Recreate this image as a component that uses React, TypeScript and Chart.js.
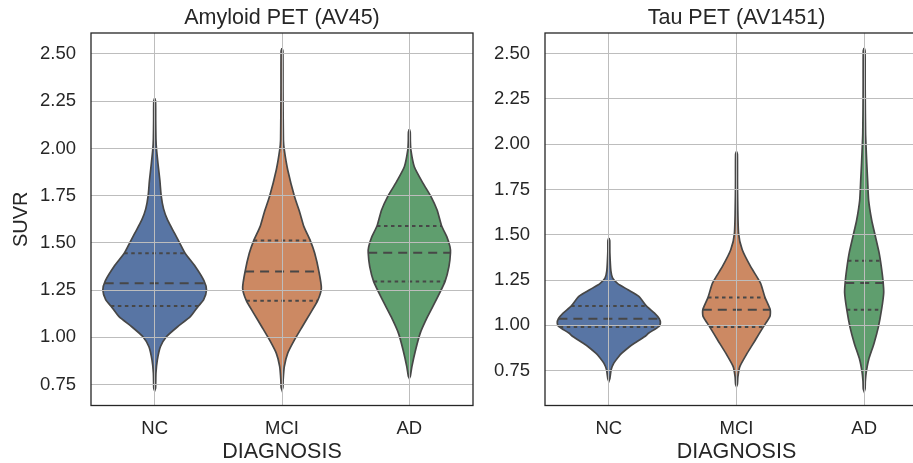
import React, { useEffect, useRef } from 'react';
import { Chart, registerables } from 'chart.js';

Chart.register(...registerables);

// ---------- data ----------
const CATEGORIES = ['NC', 'MCI', 'AD'];
const Y_TICKS = [0.75, 1.0, 1.25, 1.5, 1.75, 2.0, 2.25, 2.5];
const COLORS = ['#5875a4', '#cc8963', '#5f9e6e'];

const AMY_TITLE = 'Amyloid PET (AV45)';
const TAU_TITLE = 'Tau PET (AV1451)';
const X_TITLE = 'DIAGNOSIS';
const Y_TITLE = 'SUVR';

// Amyloid violin profiles: SUVR levels and half-widths (category units)
const AMY_NC_SUVR = [2.265, 2.25, 2.15, 2.05, 2.0, 1.92, 1.83, 1.75, 1.68, 1.62, 1.55, 1.5, 1.445, 1.375, 1.3, 1.25, 1.198, 1.166, 1.109, 1.056, 1.003, 0.95, 0.88, 0.81, 0.73, 0.718];
const AMY_NC_WIDTH = [0, 0.007, 0.008, 0.01, 0.014, 0.026, 0.041, 0.051, 0.07, 0.102, 0.157, 0.196, 0.239, 0.319, 0.387, 0.407, 0.384, 0.344, 0.28, 0.18, 0.092, 0.045, 0.021, 0.01, 0.007, 0];

const AMY_MCI_SUVR = [2.53, 2.515, 2.3, 2.045, 1.992, 1.886, 1.745, 1.66, 1.586, 1.512, 1.445, 1.348, 1.26, 1.194, 1.127, 1.056, 0.986, 0.916, 0.845, 0.774, 0.735, 0.721];
const AMY_MCI_WIDTH = [0, 0.007, 0.008, 0.011, 0.018, 0.045, 0.098, 0.14, 0.172, 0.222, 0.257, 0.29, 0.309, 0.28, 0.222, 0.159, 0.098, 0.045, 0.018, 0.009, 0.007, 0];

const AMY_AD_SUVR = [2.101, 2.085, 2.04, 1.992, 1.903, 1.816, 1.745, 1.674, 1.589, 1.533, 1.48, 1.448, 1.374, 1.295, 1.198, 1.109, 1.021, 0.933, 0.845, 0.795, 0.783];
const AMY_AD_WIDTH = [0, 0.007, 0.008, 0.012, 0.039, 0.107, 0.17, 0.218, 0.254, 0.294, 0.319, 0.323, 0.311, 0.28, 0.211, 0.143, 0.085, 0.049, 0.02, 0.008, 0];

// Tau violin profiles
const TAU_NC_SUVR = [1.482, 1.468, 1.4, 1.3, 1.26, 1.23, 1.196, 1.159, 1.104, 1.067, 1.036, 1.012, 0.993, 0.957, 0.938, 0.902, 0.883, 0.846, 0.828, 0.791, 0.754, 0.705, 0.69];
const TAU_NC_WIDTH = [0, 0.007, 0.008, 0.016, 0.03, 0.07, 0.15, 0.235, 0.297, 0.358, 0.395, 0.404, 0.391, 0.313, 0.282, 0.203, 0.164, 0.102, 0.078, 0.039, 0.018, 0.008, 0];

const TAU_MCI_SUVR = [1.96, 1.945, 1.75, 1.509, 1.417, 1.325, 1.233, 1.154, 1.086, 1.049, 0.99, 0.92, 0.846, 0.772, 0.717, 0.675, 0.662];
const TAU_MCI_WIDTH = [0, 0.007, 0.008, 0.016, 0.045, 0.11, 0.188, 0.223, 0.264, 0.262, 0.209, 0.149, 0.084, 0.026, 0.011, 0.007, 0];

const TAU_AD_SUVR = [2.531, 2.515, 2.3, 2.06, 1.9, 1.8, 1.69, 1.58, 1.49, 1.4, 1.33, 1.25, 1.18, 1.09, 0.99, 0.9, 0.81, 0.74, 0.69, 0.648, 0.634];
const TAU_AD_WIDTH = [0, 0.007, 0.008, 0.011, 0.02, 0.027, 0.035, 0.059, 0.088, 0.117, 0.133, 0.147, 0.153, 0.137, 0.111, 0.077, 0.035, 0.016, 0.009, 0.007, 0];

// Quartiles [Q1, median, Q3]
const AMY_QUARTILES = [[1.166, 1.286, 1.445], [1.194, 1.348, 1.512], [1.295, 1.448, 1.589]];
const TAU_QUARTILES = [[0.99, 1.036, 1.106], [0.99, 1.086, 1.154], [1.086, 1.233, 1.357]];

const AMY_Y_RANGE = [0.639, 2.611];
const TAU_Y_RANGE = [0.557, 2.614];

// ---------- styles ----------
const FONT = '"Liberation Sans", Arial, sans-serif';
const TEXT = '#262626';
const GRID = '#bdbdbd';
const OUTLINE = '#474747';
const FRAME = '#262626';

function widthAt(ys: number[], ws: number[], v: number) {
  for (let i = 0; i < ys.length - 1; i++) {
    const a = ys[i], b = ys[i + 1];
    if ((v <= a && v >= b) || (v >= a && v <= b)) {
      const t = b === a ? 0 : (v - a) / (b - a);
      return ws[i] + t * (ws[i + 1] - ws[i]);
    }
  }
  return 0;
}

function buildDatasets(profiles: [number[], number[]][], quartiles: number[][]) {
  const sets: any[] = [];
  profiles.forEach(([ys, ws], c) => {
    const pts: { x: number; y: number }[] = [];
    for (let i = 0; i < ys.length; i++) pts.push({ x: c + ws[i], y: ys[i] });
    for (let i = ys.length - 1; i >= 0; i--) pts.push({ x: c - ws[i], y: ys[i] });
    sets.push({
      type: 'line',
      data: pts,
      fill: 'shape',
      backgroundColor: COLORS[c],
      borderColor: OUTLINE,
      borderWidth: 1.7,
      pointRadius: 0,
      tension: 0.2,
      order: 2,
    });
    quartiles[c].forEach((q, k) => {
      const w = widthAt(ys, ws, q);
      sets.push({
        type: 'line',
        data: [{ x: c - w, y: q }, { x: c + w, y: q }],
        fill: false,
        borderColor: OUTLINE,
        borderWidth: 2,
        borderDash: k === 1 ? [9, 6] : [3.5, 3.5],
        pointRadius: 0,
        tension: 0,
        order: 1,
      });
    });
  });
  return sets;
}

const framePlugin = {
  id: 'frame',
  afterDraw(chart: any) {
    const { ctx, chartArea: a } = chart;
    ctx.save();
    ctx.strokeStyle = FRAME;
    ctx.lineWidth = 1.3;
    ctx.strokeRect(a.left, a.top, a.right - a.left, a.bottom - a.top);
    ctx.restore();
  },
};

function makeConfig(opts: {
  title: string;
  datasets: any[];
  yRange: number[];
  yAxisWidth: number;
  padRight: number;
  showYTitle: boolean;
}) {
  return {
    type: 'line',
    data: { datasets: opts.datasets },
    plugins: [framePlugin],
    options: {
      animation: false,
      responsive: false,
      maintainAspectRatio: false,
      events: [],
      layout: { padding: { left: 0, right: opts.padRight, top: 0, bottom: 0 } },
      plugins: {
        legend: { display: false },
        tooltip: { enabled: false },
        title: {
          display: true,
          text: opts.title,
          fullSize: false,
          color: TEXT,
          font: { family: FONT, size: 21.5, weight: 'normal', lineHeight: 1.2 },
          padding: { top: 5, bottom: 2.2 },
        },
      },
      scales: {
        x: {
          type: 'linear',
          min: -0.5,
          max: 2.5,
          afterBuildTicks: (s: any) => {
            s.ticks = CATEGORIES.map((_, i) => ({ value: i }));
          },
          afterFit: (s: any) => {
            s.height = 57.5;
          },
          ticks: {
            callback: (v: number) => CATEGORIES[v],
            color: TEXT,
            font: { family: FONT, size: 18.5 },
            padding: 12,
            maxRotation: 0,
            autoSkip: false,
          },
          grid: { color: GRID, lineWidth: 1, drawTicks: false, z: 1 },
          border: { display: false },
          title: {
            display: true,
            text: X_TITLE,
            color: TEXT,
            font: { family: FONT, size: 21.5, lineHeight: 1.0 },
            padding: { top: 0, bottom: 0.5 },
          },
        },
        y: {
          type: 'linear',
          min: opts.yRange[0],
          max: opts.yRange[1],
          afterBuildTicks: (s: any) => {
            s.ticks = Y_TICKS.map((v) => ({ value: v }));
          },
          afterFit: (s: any) => {
            s.width = opts.yAxisWidth;
          },
          ticks: {
            callback: (v: number) => Number(v).toFixed(2),
            color: TEXT,
            font: { family: FONT, size: 18.5 },
            padding: 15,
          },
          grid: { color: GRID, lineWidth: 1, drawTicks: false, z: 1 },
          border: { display: false },
          title: {
            display: opts.showYTitle,
            text: Y_TITLE,
            color: TEXT,
            font: { family: FONT, size: 20, lineHeight: 1.2 },
            padding: { top: 9, bottom: 0 },
          },
        },
      },
    },
  };
}

function Panel(props: { left: number; width: number; config: any }) {
  const ref = useRef<HTMLCanvasElement | null>(null);
  useEffect(() => {
    if (!ref.current) return;
    const chart = new Chart(ref.current, props.config);
    return () => chart.destroy();
  }, []);
  return (
    <canvas
      ref={ref}
      width={props.width}
      height={463}
      style={{ position: 'absolute', left: props.left, top: 0, width: props.width, height: 463 }}
    />
  );
}

export default function App() {
  const amyConfig = makeConfig({
    title: AMY_TITLE,
    datasets: buildDatasets(
      [
        [AMY_NC_SUVR, AMY_NC_WIDTH],
        [AMY_MCI_SUVR, AMY_MCI_WIDTH],
        [AMY_AD_SUVR, AMY_AD_WIDTH],
      ],
      AMY_QUARTILES
    ),
    yRange: AMY_Y_RANGE,
    yAxisWidth: 91,
    padRight: 7,
    showYTitle: true,
  });
  const tauConfig = makeConfig({
    title: TAU_TITLE,
    datasets: buildDatasets(
      [
        [TAU_NC_SUVR, TAU_NC_WIDTH],
        [TAU_MCI_SUVR, TAU_MCI_WIDTH],
        [TAU_AD_SUVR, TAU_AD_WIDTH],
      ],
      TAU_QUARTILES
    ),
    yRange: TAU_Y_RANGE,
    yAxisWidth: 65,
    padRight: 12,
    showYTitle: false,
  });
  return (
    <div
      style={{
        position: 'fixed',
        left: 0,
        top: 0,
        width: 913,
        height: 463,
        overflow: 'hidden',
        background: '#ffffff',
      }}
    >
      <Panel left={0} width={480} config={amyConfig} />
      <Panel left={480} width={460} config={tauConfig} />
    </div>
  );
}
